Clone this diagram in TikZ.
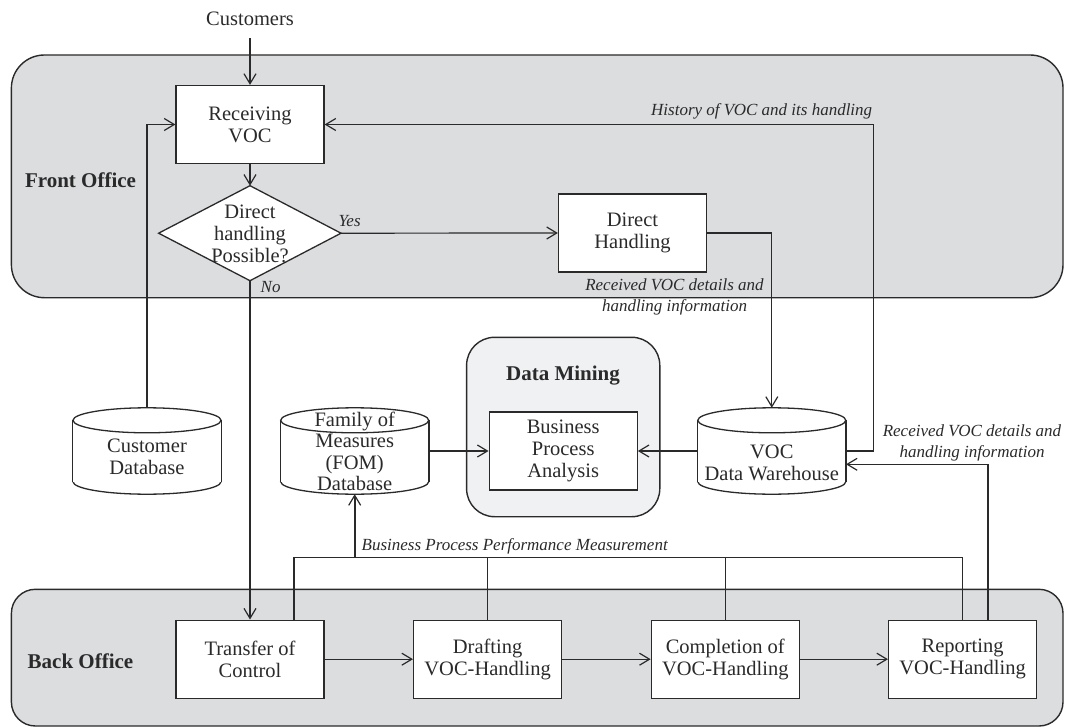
\documentclass[tikz,border=0pt]{standalone}
\usepackage{fontspec}
\setmainfont{Liberation Serif}
\usetikzlibrary{arrows.meta,calc}
\definecolor{ink}{HTML}{2A2A2A}
\definecolor{panelgray}{HTML}{DCDDDF}
\definecolor{dmgray}{HTML}{F0F1F3}
\newcommand\mycyl[1]{%
  \draw[cylline,fill=white] ($(#1.south)+(0,-12.5)$) ellipse [x radius=74pt,y radius=12.5pt];
  \fill[white] ($(#1.north west)+(0,12.5)$) rectangle ($(#1.south east)+(0,-12.5)$);
  \draw[cylline] ($(#1.north west)+(0,12.5)$) -- ($(#1.south west)+(0,-12.5)$)
                 ($(#1.north east)+(0,12.5)$) -- ($(#1.south east)+(0,-12.5)$);
  \draw[cylline,fill=white] ($(#1.north)+(0,12.5)$) ellipse [x radius=74pt,y radius=12.5pt];
}
\begin{document}
\begin{tikzpicture}[x=1pt,y=-1pt,
  font=\fontsize{20.5}{22}\selectfont,
  every node/.style={text=ink},
  box/.style={draw=ink, fill=white, line width=1.3pt, minimum width=148pt, minimum height=78pt, align=center, inner sep=2pt},
  cylbox/.style={minimum width=148pt, minimum height=86pt, inner sep=0pt},
  cylline/.style={draw=ink, line width=1.3pt},
  dbtext/.style={align=center, inner sep=0pt},
  lbl/.style={font=\fontsize{17}{20.5}\selectfont\itshape, align=center},
  title/.style={font=\fontsize{21}{24}\selectfont\bfseries},
  conn/.style={draw=ink, line width=1.2pt},
  arr/.style={conn, -{Straight Barb[length=10pt,width=12pt,line width=1.2pt]}},
  panel/.style={draw=ink, fill=panelgray, line width=1.4pt},
  dmpanel/.style={draw=ink, fill=dmgray, line width=1.4pt, rounded corners=28pt}
]
\useasboundingbox (0,0) rectangle (1070,727);

% panels
\draw[panel, rounded corners=33pt] (11.4,55) rectangle (1063,297.7);
\draw[panel, rounded corners=24pt] (11.4,589.3) rectangle (1063,726);
\draw[dmpanel] (466.6,337.3) rectangle (659.8,516.7);

\node[title] (fo) at (80.5,180) {Front Office};
\node[title] (bo) at (80.5,661) {Back Office};
\node[title] (dm) at (563,376) {Data Mining};

% nodes
\node (cust) at (250,19) {Customers};
\node[box] (recv) at (250,124.5) {Receiving\\VOC};
\coordinate (dT) at (250,185.7);
\coordinate (dR) at (341,233.2);
\coordinate (dB) at (250,280.7);
\coordinate (dL) at (158.6,233.2);
\draw[draw=ink, fill=white, line width=1.3pt] (dT) -- (dR) -- (dB) -- (dL) -- cycle;
\node[align=center, inner sep=0pt] (dec) at (250,234) {Direct\\handling\\Possible?};
\node[box] (dh) at (632.5,233) {Direct\\Handling};

\node[cylbox] (cdb) at (147,451) {};
\node[cylbox] (fom) at (354.7,451) {};
\node[cylbox] (dwh) at (771.8,451) {};
\node[box] (bpa) at (563.2,451) {Business\\Process\\Analysis};

\node[box] (toc) at (250,659.2) {Transfer of\\Control};
\node[box] (draft) at (487.6,659.2) {Drafting\\VOC-Handling};
\node[box] (comp) at (725.3,659.2) {Completion of\\VOC-Handling};
\node[box] (rep) at (962.6,659.2) {Reporting\\VOC-Handling};

% connectors
\draw[arr, shorten <=9pt] (cust) -- (recv);
\draw[arr] (recv) -- (dT);
\draw[arr] (dR) -- (dh.west);
\draw[arr] (dB) -- (toc.north);
\draw[arr] (dh.east) -| (dwh.north);
\draw[arr] (dwh.east) -- ++(27.5,0) |- (recv.east);
\draw[arr] (cdb.north) |- (recv.west);
\draw[arr] (fom.east) -- (bpa.west);
\draw[arr] (dwh.west) -- (bpa.east);
\draw[arr] ([xshift=25.4pt]rep.north) |- ($(dwh.east)+(0,13.3)$);
\draw[arr] (toc) -- (draft);
\draw[arr] (draft) -- (comp);
\draw[arr] (comp) -- (rep);

\coordinate (bus) at (354.7,557.7);
\draw[conn] ([xshift=44pt]toc.north) |- (rep.north |- bus) -- (rep.north);
\draw[conn] (draft.north) -- (draft.north |- bus);
\draw[conn] (comp.north) -- (comp.north |- bus);
\draw[arr, line width=1.7pt] (fom.south |- bus) -- (fom.south);

% cylinders
\mycyl{cdb}
\mycyl{fom}
\mycyl{dwh}
\node[dbtext] (cdbt) at (147,457) {Customer\\Database};
\node[dbtext, font=\fontsize{20.5}{21.5}\selectfont] (fomt) at (354.7,451.5) {Family of\\Measures\\(FOM)\\Database};
\node[dbtext] (dwht) at (771.8,462.5) {VOC\\Data Warehouse};

% labels
\node[lbl] (yes) at (349.6,221) {Yes};
\node[lbl] (no) at (270.6,287.3) {No};
\node[lbl] (hist) at (761.7,111.7) {History of VOC and its handling};
\node[lbl] (rec1) at (674.5,297) {Received VOC details and\\handling information};
\node[lbl] (rec2) at (972,443) {Received VOC details and\\handling information};
\node[lbl] (bppm) at (514.7,546) {Business Process Performance Measurement};
\end{tikzpicture}
\end{document}
